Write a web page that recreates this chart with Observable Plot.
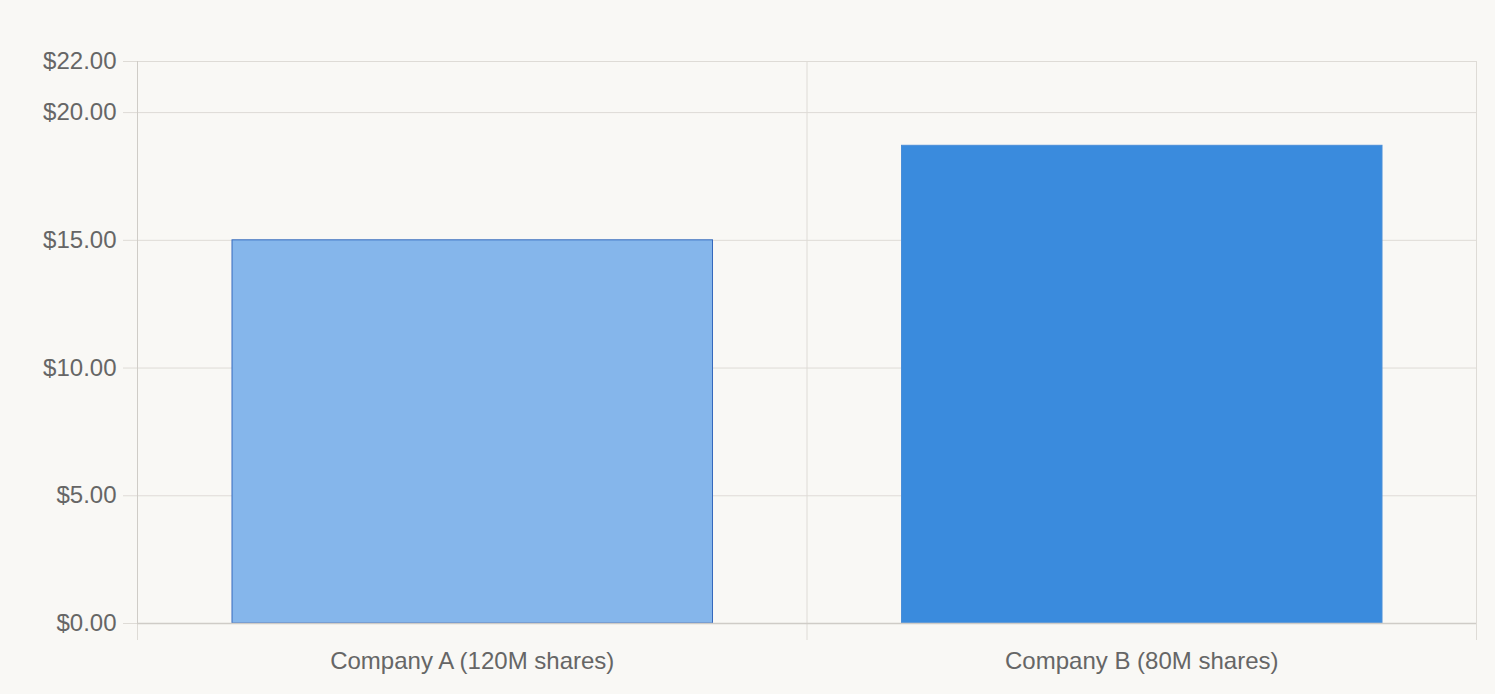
<!DOCTYPE html>
<html><head><meta charset="utf-8">
<script src="https://cdn.jsdelivr.net/npm/d3@7"></script>
<script src="https://cdn.jsdelivr.net/npm/@observablehq/plot@0.6"></script>
<style>
html,body{margin:0;padding:0;background:#f9f8f5;overflow:hidden;}
</style></head><body><div id="chart"></div>
<script>
const companies = ["Company A (120M shares)", "Company B (80M shares)"];
const prices = [15.00, 18.70];
const fills = ["#85b6eb", "#3a8bdd"];
const strokes = ["#3569bd", "#4a8ed8"];
const yTicks = [0, 5, 10, 15, 20, 22];

const data = companies.map((c, i) => ({company: c, index: i, next: i + 1, price: prices[i], fill: fills[i], stroke: strokes[i]}));
const edges = d3.range(companies.length + 1);
const centers = companies.map((c, i) => i + 0.5);

const chart = Plot.plot({
  width: 1495, height: 694,
  marginLeft: 137, marginRight: 19, marginTop: 61, marginBottom: 71,
  style: {background: "#f9f8f5", fontFamily: "'Liberation Sans', Arial, sans-serif", fontSize: "24px", color: "#666"},
  x: {type: "linear", domain: [0, companies.length]},
  y: {domain: [0, 22]},
  color: {type: "identity"},
  marks: [
    Plot.gridY(yTicks, {stroke: "#dedbd6", strokeOpacity: 1}),
    Plot.gridX(edges.slice(1), {stroke: "#dedbd6", strokeOpacity: 1}),
    Plot.axisY(yTicks, {label: null, tickSize: 14, tickPadding: 7, tickFormat: d => "$" + d.toFixed(2), stroke: "#dedbd6", fill: "#666", fontSize: 24}),
    Plot.axisX(edges, {label: null, tickSize: 17, text: null, stroke: "#dedbd6"}),
    Plot.axisX(centers, {label: null, tickSize: 0, tickPadding: 28, tickFormat: d => companies[Math.floor(d)], fill: "#666", fontSize: 24}),
    Plot.rectY(data, {x1: "index", x2: "next", y: "price", fill: "fill", stroke: "stroke", strokeWidth: 1, insetLeft: 95, insetRight: 94}),
    Plot.ruleX([0], {stroke: "#cfccc7"}),
    Plot.ruleY([0], {stroke: "#cfccc7", strokeWidth: 1.5})
  ]
});
document.getElementById("chart").appendChild(chart);
</script>
</body></html>
